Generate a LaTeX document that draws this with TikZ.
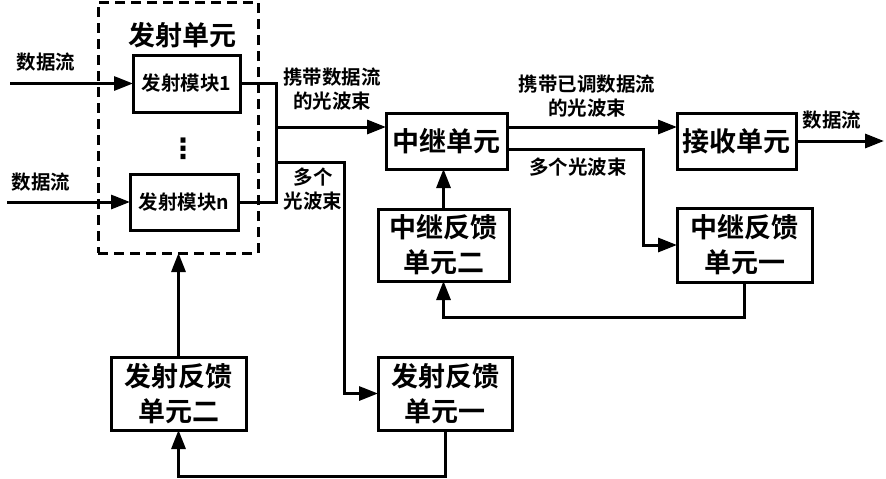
\documentclass[tikz,border=0pt]{standalone}
\usepackage{fontspec}
\setmainfont{Noto Sans CJK SC}[BoldFont={Noto Sans CJK SC Bold}]
\newfontfamily\dejavu{DejaVu Sans}
\usetikzlibrary{arrows.meta,calc}
\begin{document}
\begin{tikzpicture}[x=1pt,y=-1pt,
  every node/.style={inner sep=0pt,outer sep=0pt},
  box/.style={draw,line width=3pt,rectangle,align=center},
  bigtxt/.style={font=\fontsize{27}{35}\selectfont\bfseries},
  smalltxt/.style={font=\fontsize{19.5}{24}\selectfont\bfseries,align=center},
  conn/.style={line width=3pt},
  arr/.style={conn,-{Triangle[length=19pt,width=14pt]}}]
\useasboundingbox (0,0) rectangle (886,479);
% dashed transmit unit
\node[draw,dash pattern=on 10pt off 6pt,line width=3pt,minimum width=160pt,minimum height=251pt] (tx) at (178,127.5) {};
\node[bigtxt] (txt) at (182,35) {发射单元};
\node[box,smalltxt,minimum width=107pt,minimum height=57pt] (m1) at (186.5,83.5) {发射模块1};
\node[box,smalltxt,minimum width=108pt,minimum height=56pt] (mn) at (184,202) {发射模块n};
\node[font=\fontsize{28}{30}\selectfont\bfseries\dejavu] (dots) at (183,149) {⋮};
% other boxes
\node[box,bigtxt,minimum width=121pt,minimum height=56pt] (relay) at (446.5,141) {中继单元};
\node[box,bigtxt,minimum width=131pt,minimum height=72pt] (rfb2) at (443.5,245) {中继反馈\\单元二};
\node[box,bigtxt,minimum width=119pt,minimum height=56pt] (recv) at (736.5,141) {接收单元};
\node[box,bigtxt,minimum width=135pt,minimum height=74pt] (rfb1) at (744.5,245) {中继反馈\\单元一};
\node[box,bigtxt,minimum width=135pt,minimum height=73pt] (tfb2) at (178.5,393.5) {发射反馈\\单元二};
\node[box,bigtxt,minimum width=134pt,minimum height=73pt] (tfb1) at (445,393.5) {发射反馈\\单元一};
% labels
\node[smalltxt] (l1) at (46,62) {数据流};
\node[smalltxt] (l2) at (41,182) {数据流};
\node[smalltxt] (l3) at (332,89) {携带数据流\\的光波束};
\node[smalltxt] (l4) at (313,189) {多个\\光波束};
\node[smalltxt] (l5) at (587,96) {携带已调数据流\\的光波束};
\node[smalltxt] (l6) at (578,167) {多个光波束};
\node[smalltxt] (l7) at (832,120) {数据流};
% coordinates
\coordinate (in1) at (10,83.5);
\coordinate (in2) at (7,202);
\coordinate (jb) at (276,202);
\coordinate (ja) at (276,127);
\coordinate (jc) at (276,162);
\coordinate (jd) at (344,393.5);
\coordinate (rA) at (507,127);
\coordinate (rB) at (507,149);
\coordinate (je) at (643,245);
\coordinate (jf) at (443.5,317);
\coordinate (jg) at (178.5,476.5);
\coordinate (out) at (884,141);
% connectors
\draw[arr] (in1) -- (m1.west);
\draw[arr] (in2) -- (mn.west);
\draw[conn] (m1.east) -| (jb) -- (mn.east);
\draw[arr] (ja) -- (ja -| relay.west);
\draw[arr] (jc) -| (jd) -- (tfb1.west);
\draw[arr] (rA) -- (rA -| recv.west);
\draw[arr] (rB) -| (je) -- (rfb1.west);
\draw[arr] (recv.east) -- (out);
\draw[arr] (rfb2.north) -- (rfb2.north |- relay.south);
\draw[arr] (rfb1.south) |- (jf) -- (rfb2.south);
\draw[arr] (tfb2.north) -- (tfb2.north |- tx.south);
\draw[arr] (tfb1.south) |- (jg) -- (tfb2.south);
\end{tikzpicture}
\end{document}
